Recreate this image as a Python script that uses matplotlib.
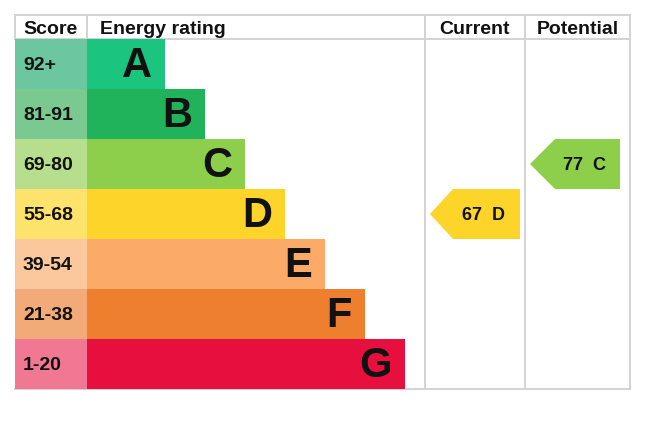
import matplotlib.pyplot as plt
from matplotlib.patches import Polygon

plt.rcParams['font.family'] = ['Liberation Sans', 'DejaVu Sans']

bands = ['A', 'B', 'C', 'D', 'E', 'F', 'G']
score_labels = ['92+', '81-91', '69-80', '55-68', '39-54', '21-38', '1-20']
band_min = [92, 81, 69, 55, 39, 21, 1]
current = 67
potential = 77
headers = ['Score', 'Energy rating', 'Current', 'Potential']

bar_colors = ['#1bc580', '#21b35c', '#8dce4a', '#fdd42a', '#fbaa68', '#ee7f2e', '#e70f3e']
score_colors = ['#6cc6a0', '#79c990', '#b6de8d', '#fde26c', '#fbc79c', '#f2ab78', '#f07892']

grid = '#d3d3d3'


def band_of(v):
    for i, m in enumerate(band_min):
        if v >= m:
            return i
    return len(band_min) - 1


fig = plt.figure(figsize=(6.53, 4.22), dpi=100)
ax = fig.add_axes([0, 0, 1, 1])
ax.set_xlim(0, 653)
ax.set_ylim(422, 0)
ax.axis('off')

row_h = 50
top = 39
centers = [top + row_h * i + row_h / 2 for i in range(len(bands))]
widths = [78 + 40 * i for i in range(len(bands))]

ax.barh(centers, [72] * len(bands), left=15, height=row_h, color=score_colors, zorder=2)
ax.barh(centers, widths, left=87, height=row_h, color=bar_colors, zorder=2)

for yc, s, b, w in zip(centers, score_labels, bands, widths):
    ax.text(23, yc + 2, s, fontsize=14, fontweight='bold', ha='left', va='center', color='#111111', zorder=3)
    ax.text(87 + w - 13, yc + 2, b, fontsize=30, fontweight='bold', ha='right', va='center', color='#111111', zorder=3)

# grid lines
lw = 1.4
ax.plot([15, 630], [15, 15], color=grid, lw=lw, zorder=1)
ax.plot([15, 630], [39, 39], color=grid, lw=lw, zorder=1)
ax.plot([15, 630], [389, 389], color=grid, lw=lw, zorder=1)
for x in [15, 87]:
    ax.plot([x, x], [15, 39], color=grid, lw=lw, zorder=1)
for x in [425, 525, 630]:
    ax.plot([x, x], [15, 389], color=grid, lw=lw, zorder=1)

ax.text(23, 30, headers[0], fontsize=14, fontweight='bold', ha='left', va='center', color='#111111')
ax.text(100, 30, headers[1], fontsize=14, fontweight='bold', ha='left', va='center', color='#111111')
ax.text(475, 30, headers[2], fontsize=14, fontweight='bold', ha='center', va='center', color='#111111')
ax.text(578, 30, headers[3], fontsize=14, fontweight='bold', ha='center', va='center', color='#111111')


def arrow(value, tip_x, body_x, right_x):
    i = band_of(value)
    t = top + row_h * i
    b = t + row_h
    yc = (t + b) / 2
    poly = Polygon([(tip_x, yc), (body_x, t), (right_x, t), (right_x, b), (body_x, b)],
                   closed=True, facecolor=bar_colors[i], edgecolor='none', zorder=2)
    ax.add_patch(poly)
    ax.text((body_x + right_x) / 2 - 3, yc + 2, f'{value}  {bands[i]}', fontsize=13,
            fontweight='bold', ha='center', va='center', color='#111111', zorder=3)


arrow(current, 430, 453, 520)
arrow(potential, 530, 555, 620)

fig.savefig('out.png', dpi=100)
